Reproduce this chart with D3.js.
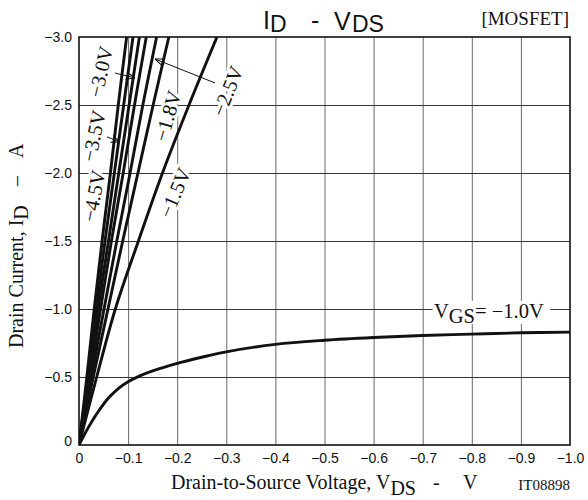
<!DOCTYPE html>
<html>
<head>
<meta charset="utf-8">
<title>ID - VDS</title>
<style>
  html, body { margin: 0; padding: 0; background: #fff; }
  svg { display: block; }
  .serif { font-family: "Liberation Serif", "Times New Roman", serif; fill: #111; }
  .sans { font-family: "Liberation Sans", Arial, sans-serif; fill: #111; }
  .curve { fill: none; stroke: #111; stroke-width: 2.9px; stroke-linejoin: round; }
  .halo { paint-order: stroke; stroke: #fff; stroke-width: 6px; stroke-linejoin: round; }
</style>
</head>
<body>
<svg width="588" height="500"></svg>

<script src="https://d3js.org/d3.v7.min.js"></script>
<script>
  // axis ticks
  const xTicks = [0, -0.1, -0.2, -0.3, -0.4, -0.5, -0.6, -0.7, -0.8, -0.9, -1.0];
  const yTicks = [0, -0.5, -1.0, -1.5, -2.0, -2.5, -3.0];

  // steep lines: V_DS read at fixed I_D levels
  const idLevels = [0, -0.5, -1.0, -1.5, -2.0, -2.5, -3.0];
  const vdsGs45 = [0, -0.016, -0.031, -0.047, -0.064, -0.080, -0.097];
  const vdsGs35 = [0, -0.018, -0.035, -0.053, -0.072, -0.091, -0.110];
  const vdsGs30 = [0, -0.020, -0.039, -0.060, -0.081, -0.102, -0.123];
  const vdsGsX  = [0, -0.022, -0.044, -0.066, -0.090, -0.113, -0.137]; // unlabelled line
  const vdsGs25 = [0, -0.025, -0.051, -0.077, -0.104, -0.130, -0.158];
  const vdsGs18 = [0, -0.029, -0.059, -0.089, -0.120, -0.151, -0.183];
  const vdsGs15 = [0, -0.036, -0.074, -0.121, -0.170, -0.224, -0.281];

  // VGS = -1.0V curve
  const vdsGs10 = [0, -0.01, -0.02, -0.03, -0.04, -0.06, -0.08, -0.1, -0.125, -0.15, -0.2, -0.25, -0.3, -0.4, -0.5, -0.6, -0.7, -0.8, -0.9, -1.0];
  const idGs10  = [0, -0.07, -0.135, -0.195, -0.25, -0.345, -0.415, -0.465, -0.51, -0.545, -0.60, -0.645, -0.685, -0.74, -0.77, -0.79, -0.805, -0.815, -0.825, -0.83];

  const steepSeries = [vdsGs45, vdsGs35, vdsGs30, vdsGsX, vdsGs25, vdsGs18, vdsGs15];

  const svg = d3.select("svg");
  const mLeft = 79, mRight = 570, mTop = 37, mBottom = 445;

  const x = d3.scaleLinear().domain([0, -1]).range([mLeft, mRight]);
  const y = d3.scaleLinear().domain([0, -3]).range([mBottom, mTop]);

  // grid
  svg.append("g")
    .attr("transform", `translate(0,${mBottom})`)
    .call(d3.axisBottom(x).tickValues(xTicks.slice(1, -1)).tickSize(-(mBottom - mTop)).tickFormat(""))
    .call(g => g.select(".domain").remove())
    .call(g => g.selectAll("line").attr("stroke", "#6a6a6a").attr("stroke-width", 1));

  svg.append("g")
    .attr("transform", `translate(${mLeft},0)`)
    .call(d3.axisLeft(y).tickValues(yTicks.slice(1, -1)).tickSize(-(mRight - mLeft)).tickFormat(""))
    .call(g => g.select(".domain").remove())
    .call(g => g.selectAll("line").attr("stroke", "#333").attr("stroke-width", 1));

  // tick labels
  const fmt = d => d === 0 ? "0" : d3.format(".1f")(d);

  svg.append("g")
    .attr("transform", `translate(0,${mBottom})`)
    .call(d3.axisBottom(x).tickValues(xTicks).tickSize(0).tickPadding(8).tickFormat(fmt))
    .call(g => g.select(".domain").remove())
    .call(g => g.selectAll("text").attr("class", "sans").attr("font-size", 14));

  svg.append("g")
    .attr("transform", `translate(${mLeft},0)`)
    .call(d3.axisLeft(y).tickValues(yTicks).tickSize(0).tickPadding(7).tickFormat(fmt))
    .call(g => g.select(".domain").remove())
    .call(g => g.selectAll("text").attr("class", "sans").attr("font-size", 14)
      .attr("dy", d => d === 0 ? "0.05em" : "0.33em"));

  // VGS label background, cut the grid line
  svg.append("rect")
    .attr("x", x(-0.720)).attr("y", y(-1.06))
    .attr("width", x(-0.96) - x(-0.720)).attr("height", y(-0.89) - y(-1.06))
    .attr("fill", "#fff");

  // curves
  svg.append("defs").append("clipPath").attr("id", "plot")
    .append("rect").attr("x", mLeft).attr("y", mTop).attr("width", mRight - mLeft).attr("height", mBottom - mTop);

  const plot = svg.append("g").attr("clip-path", "url(#plot)");

  const curveLine = d3.line()
    .x(d => x(d[0]))
    .y(d => y(d[1]))
    .curve(d3.curveCatmullRom.alpha(0.5));

  steepSeries.forEach(vs => {
    plot.append("path")
      .attr("class", "curve")
      .attr("d", curveLine(vs.map((v, i) => [v, idLevels[i]])));
  });

  plot.append("path")
    .attr("class", "curve")
    .attr("d", curveLine(vdsGs10.map((v, i) => [v, idGs10[i]])));

  // frame
  svg.append("rect")
    .attr("x", mLeft).attr("y", mTop).attr("width", mRight - mLeft).attr("height", mBottom - mTop)
    .attr("fill", "none").attr("stroke", "#111").attr("stroke-width", 1.6);

  // arrows
  svg.select("defs").append("marker")
    .attr("id", "arr")
    .attr("viewBox", "0 0 10 10")
    .attr("refX", 10).attr("refY", 5)
    .attr("markerWidth", 9).attr("markerHeight", 9)
    .attr("markerUnits", "userSpaceOnUse")
    .attr("orient", "auto")
    .append("path")
    .attr("d", "M0,1 L10,5 L0,9")
    .attr("fill", "none").attr("stroke", "#111").attr("stroke-width", 1.2);

  const arrows = [
    [[-0.073, -2.735], [-0.114, -2.699]],
    [[-0.057, -2.265], [-0.0835, -2.228]],
    [[-0.277, -2.662], [-0.155, -2.838]]
  ];
  arrows.forEach(a => {
    svg.append("line")
      .attr("x1", x(a[0][0])).attr("y1", y(a[0][1]))
      .attr("x2", x(a[1][0])).attr("y2", y(a[1][1]))
      .attr("stroke", "#111").attr("stroke-width", 1)
      .attr("marker-end", "url(#arr)");
  });

  // gate voltage labels
  const labels = [
    ["\u22124.5V", -0.0306, -1.831, -79],
    ["\u22123.5V", -0.0306, -2.272, -78],
    ["\u22123.0V", -0.0448, -2.743, -77],
    ["\u22122.5V", -0.303, -2.603, -68],
    ["\u22121.8V", -0.181, -2.419, -74],
    ["\u22121.5V", -0.196, -1.853, -67]
  ];
  labels.forEach(l => {
    svg.append("text")
      .attr("class", "serif halo")
      .attr("font-size", 20.5)
      .attr("text-anchor", "middle")
      .attr("dy", "0.33em")
      .attr("transform", `translate(${x(l[1])},${y(l[2])}) rotate(${l[3]})`)
      .text(l[0]);
  });

  const vgs = svg.append("text").attr("class", "serif").attr("font-size", 20.5)
    .attr("x", 434).attr("y", 318);
  vgs.append("tspan").text("V");
  vgs.append("tspan").attr("dy", 5).text("GS");
  vgs.append("tspan").attr("dy", -5).text("= \u22121.0V");

  // title
  svg.append("text").attr("class", "sans").attr("font-size", 25).attr("x", 263).attr("y", 29).text("I");
  svg.append("text").attr("class", "sans").attr("font-size", 23).attr("x", 270).attr("y", 32).text("D");
  svg.append("text").attr("class", "sans").attr("font-size", 25).attr("x", 311).attr("y", 29).text("-");
  svg.append("text").attr("class", "sans").attr("font-size", 25).attr("x", 334).attr("y", 30).text("V");
  svg.append("text").attr("class", "sans").attr("font-size", 23).attr("x", 352).attr("y", 32).text("DS");

  svg.append("text").attr("class", "serif").attr("font-size", 19)
    .attr("x", 569).attr("y", 25).attr("text-anchor", "end").text("[MOSFET]");

  // x axis title
  const xt = svg.append("text").attr("class", "serif").attr("font-size", 20)
    .attr("x", 171).attr("y", 489);
  xt.append("tspan").text("Drain-to-Source Voltage, V");
  xt.append("tspan").attr("dy", 6).text("DS");
  xt.append("tspan").attr("dy", -6).attr("x", 433).text("-");
  xt.append("tspan").attr("x", 463).text("V");

  svg.append("text").attr("class", "serif").attr("font-size", 15)
    .attr("x", 570).attr("y", 490).attr("text-anchor", "end").text("IT08898");

  // y axis title
  const yt = svg.append("text").attr("class", "serif").attr("font-size", 20)
    .attr("transform", "rotate(-90)")
    .attr("x", -348).attr("y", 23);
  yt.append("tspan").text("Drain Current, I");
  yt.append("tspan").attr("dy", 5).text("D");
  yt.append("tspan").attr("dy", -5).attr("x", -186).text("\u2013");
  yt.append("tspan").attr("x", -158).text("A");
</script>
</body>
</html>
